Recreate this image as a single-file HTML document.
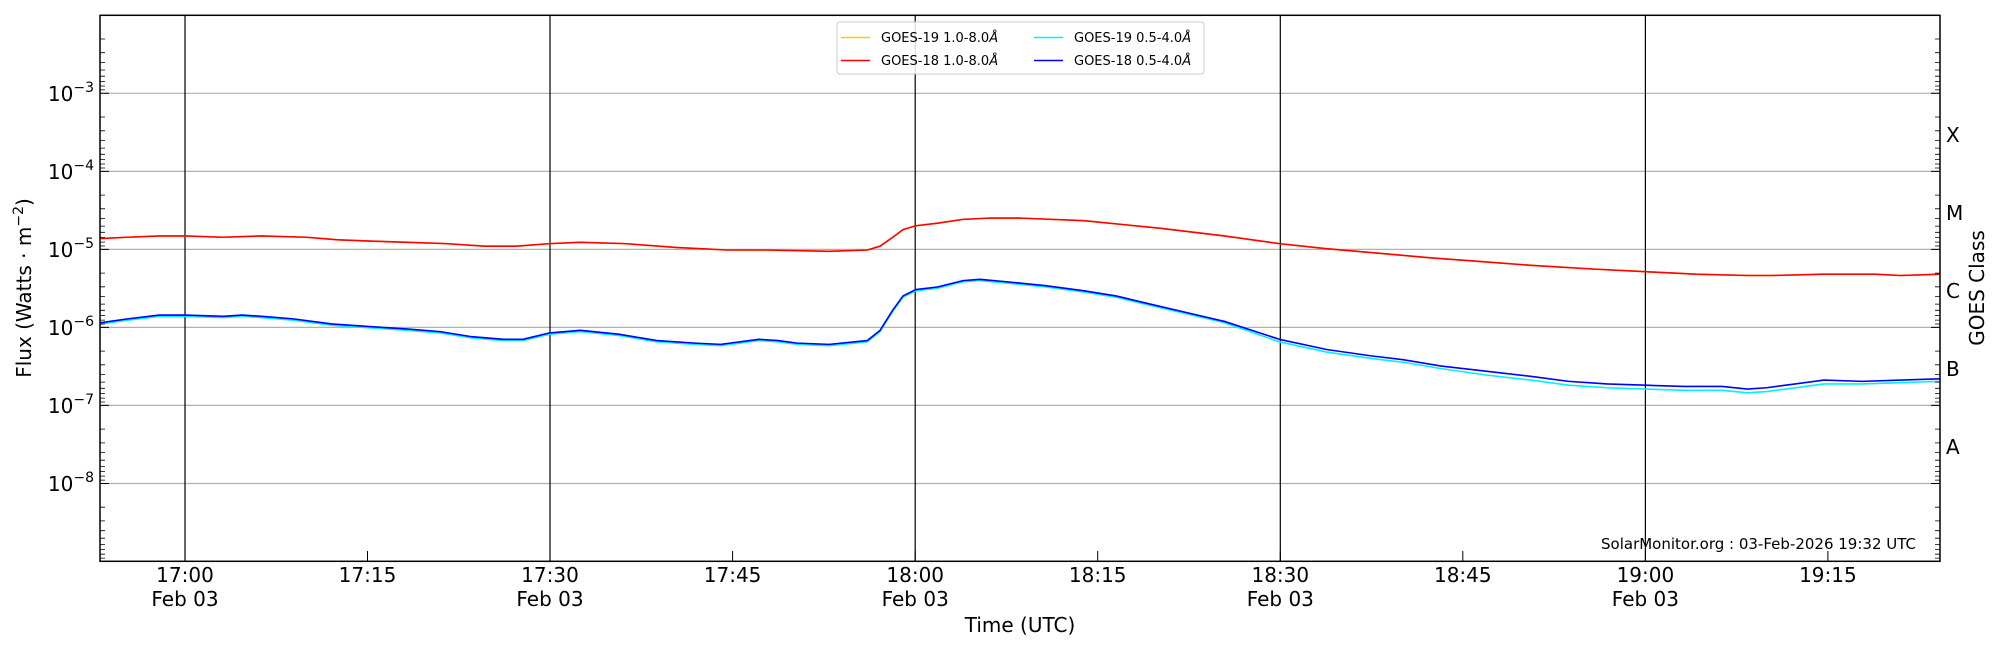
<!DOCTYPE html>
<html><head><meta charset="utf-8"><style>
html,body{margin:0;padding:0;background:#fff;}
svg{display:block;font-family:"DejaVu Sans","Liberation Sans",sans-serif;}
</style></head><body>
<svg width="2000" height="650" viewBox="0 0 2000 650" xmlns="http://www.w3.org/2000/svg">
<rect width="2000" height="650" fill="#fff"/>
<!-- grid -->
<g stroke="#b0b0b0" stroke-width="1.2">
<line x1="100" x2="1940" y1="93.3" y2="93.3"/>
<line x1="100" x2="1940" y1="171.4" y2="171.4"/>
<line x1="100" x2="1940" y1="249.4" y2="249.4"/>
<line x1="100" x2="1940" y1="327.4" y2="327.4"/>
<line x1="100" x2="1940" y1="405.4" y2="405.4"/>
<line x1="100" x2="1940" y1="483.5" y2="483.5"/>
</g>
<g stroke="#000" stroke-width="1.2">
<line x1="185" x2="185" y1="15" y2="561"/>
<line x1="550" x2="550" y1="15" y2="561"/>
<line x1="915.2" x2="915.2" y1="15" y2="561"/>
<line x1="1280.3" x2="1280.3" y1="15" y2="561"/>
<line x1="1645.4" x2="1645.4" y1="15" y2="561"/>
</g>
<!-- series -->
<g transform="scale(1.27551)" fill="none" stroke-linejoin="round">
<polyline stroke="#ffc800" vector-effect="non-scaling-stroke" stroke-width="1.5" points="79,187 100,186 125,185 145,185 175,186 205,185 240,186 265,188 290,189 320,190 350,191 380,193 405,193 431,191 455,190 490,191 530,194 570,196 600,196 650,197 680,196 690,193 700,186 708,180 718,177 735,175 755,172 775,171 800,171 825,172 850,173 880,176 910,179 960,185 1003,191 1040,195 1075,198 1120,202 1160,205 1200,208 1250,211 1290,213 1330,215 1370,216 1390,216 1430,215 1470,215 1490,216 1521,215"/>
<polyline stroke="#ff0000" vector-effect="non-scaling-stroke" stroke-width="1.6" points="79,187 100,186 125,185 145,185 175,186 205,185 240,186 265,188 290,189 320,190 350,191 380,193 405,193 431,191 455,190 490,191 530,194 570,196 600,196 650,197 680,196 690,193 700,186 708,180 718,177 735,175 755,172 775,171 800,171 825,172 850,173 880,176 910,179 960,185 1003,191 1040,195 1075,198 1120,202 1160,205 1200,208 1250,211 1290,213 1330,215 1370,216 1390,216 1430,215 1470,215 1490,216 1521,215"/>
<polyline stroke="#00f0ff" vector-effect="non-scaling-stroke" stroke-width="1.6" points="79,254 100,251 125,248 145,248 175,249 190,248 205,249 230,251 260,255 290,257 320,259 345,261 370,265 395,267 410,267 431,262 455,260 485,263 515,268 545,270 565,271 595,267 610,268 625,270 650,271 680,268 690,260 700,244 708,233 718,228 735,226 755,221 768,220 790,222 820,225 850,229 875,233 900,239 930,246 960,253 1003,268 1040,276 1075,281 1100,284 1130,289 1165,294 1200,298 1230,302 1260,304 1290,305 1320,306 1350,306 1370,308 1385,307 1400,305 1430,301 1460,301 1490,300 1521,299"/>
<polyline stroke="#0000ff" vector-effect="non-scaling-stroke" stroke-width="1.6" points="79,253 100,250 125,247 145,247 175,248 190,247 205,248 230,250 260,254 290,256 320,258 345,260 370,264 395,266 410,266 431,261 455,259 485,262 515,267 545,269 565,270 595,266 610,267 625,269 650,270 680,267 690,259 700,243 708,232 718,227 735,225 755,220 768,219 790,221 820,224 850,228 875,232 900,238 930,245 960,252 1003,266 1040,274 1075,279 1100,282 1130,287 1165,291 1200,295 1230,299 1260,301 1290,302 1320,303 1350,303 1370,305 1385,304 1400,302 1430,298 1460,299 1490,298 1521,297"/>
</g>
<!-- axes frame -->
<rect x="100" y="15.3" width="1840" height="546" fill="none" stroke="#000" stroke-width="1.5"/>
<!-- y ticks -->
<g stroke="#000" stroke-width="1">
<path id="ticks" d="M100,93.3h9 M100,171.4h9 M100,249.4h9 M100,327.4h9 M100,405.4h9 M100,483.5h9 M1940,93.3h-9 M1940,171.4h-9 M1940,249.4h-9 M1940,327.4h-9 M1940,405.4h-9 M1940,483.5h-9"/>
</g>
<g stroke="#000" stroke-width="0.8" id="minor"></g>
<!-- x ticks -->
<g stroke="#000" stroke-width="1">
<path d="M185,561v-10 M367.5,561v-10 M550,561v-10 M732.6,561v-10 M915.2,561v-10 M1097.7,561v-10 M1280.3,561v-10 M1462.8,561v-10 M1645.4,561v-10 M1827.9,561v-10"/>
</g>
<!-- tick labels -->
<g font-size="20" fill="#000" text-anchor="middle">
<text x="185" y="582">17:00</text><text x="185" y="606">Feb 03</text>
<text x="367.5" y="582">17:15</text>
<text x="550" y="582">17:30</text><text x="550" y="606">Feb 03</text>
<text x="732.6" y="582">17:45</text>
<text x="915.2" y="582">18:00</text><text x="915.2" y="606">Feb 03</text>
<text x="1097.7" y="582">18:15</text>
<text x="1280.3" y="582">18:30</text><text x="1280.3" y="606">Feb 03</text>
<text x="1462.8" y="582">18:45</text>
<text x="1645.4" y="582">19:00</text><text x="1645.4" y="606">Feb 03</text>
<text x="1827.9" y="582">19:15</text>
<text x="1020" y="632">Time (UTC)</text>
</g>
<g font-size="20" fill="#000" text-anchor="end">
<text x="94" y="101">10<tspan font-size="14" dy="-9">−3</tspan></text>
<text x="94" y="179">10<tspan font-size="14" dy="-9">−4</tspan></text>
<text x="94" y="257">10<tspan font-size="14" dy="-9">−5</tspan></text>
<text x="94" y="335">10<tspan font-size="14" dy="-9">−6</tspan></text>
<text x="94" y="413">10<tspan font-size="14" dy="-9">−7</tspan></text>
<text x="94" y="491">10<tspan font-size="14" dy="-9">−8</tspan></text>
</g>
<text transform="translate(31,288) rotate(-90)" font-size="20" text-anchor="middle">Flux (Watts · m<tspan font-size="14" dy="-8">−2</tspan><tspan dy="8">)</tspan></text>
<g font-size="20" fill="#000">
<text x="1946" y="142">X</text>
<text x="1946" y="220">M</text>
<text x="1946" y="298">C</text>
<text x="1946" y="376">B</text>
<text x="1946" y="454">A</text>
</g>
<text transform="translate(1984,288) rotate(-90)" font-size="20" text-anchor="middle">GOES Class</text>
<text x="1916" y="549" font-size="15" text-anchor="end">SolarMonitor.org : 03-Feb-2026 19:32 UTC</text>
<!-- legend -->
<rect x="837" y="22" width="367" height="52" rx="3" fill="#fff" fill-opacity="0.85" stroke="#ccc" stroke-width="1"/>
<g stroke-width="1.6">
<line x1="841" x2="870" y1="37.5" y2="37.5" stroke="#ffc800"/>
<line x1="841" x2="870" y1="60.5" y2="60.5" stroke="#ff0000"/>
<line x1="1034" x2="1063" y1="37.5" y2="37.5" stroke="#00f0ff"/>
<line x1="1034" x2="1063" y1="60.5" y2="60.5" stroke="#0000ff"/>
</g>
<g font-size="13" fill="#000">
<text x="881" y="42">GOES-19 1.0-8.0<tspan font-style="italic">Å</tspan></text>
<text x="881" y="65">GOES-18 1.0-8.0<tspan font-style="italic">Å</tspan></text>
<text x="1074" y="42">GOES-19 0.5-4.0<tspan font-style="italic">Å</tspan></text>
<text x="1074" y="65">GOES-18 0.5-4.0<tspan font-style="italic">Å</tspan></text>
</g>
<!-- minor ticks (precomputed log positions, decade=78.03px) -->
<g stroke="#000" stroke-width="0.8">
<path d="
M100,39.0h5M100,52.7h5M100,62.5h5M100,70.0h5M100,76.2h5M100,81.5h5M100,86.0h5M100,89.9h5
M100,117.0h5M100,130.8h5M100,140.5h5M100,148.1h5M100,154.3h5M100,159.5h5M100,164.0h5M100,168.0h5
M100,195.1h5M100,208.8h5M100,218.6h5M100,226.1h5M100,232.3h5M100,237.5h5M100,242.1h5M100,246.0h5
M100,273.1h5M100,286.8h5M100,296.6h5M100,304.1h5M100,310.3h5M100,315.5h5M100,320.1h5M100,324.0h5
M100,351.1h5M100,364.8h5M100,374.6h5M100,382.1h5M100,388.3h5M100,393.5h5M100,398.1h5M100,402.0h5
M100,429.1h5M100,442.9h5M100,452.6h5M100,460.2h5M100,466.4h5M100,471.6h5M100,476.1h5M100,480.1h5
M100,507.2h5M100,520.9h5M100,530.7h5M100,538.2h5M100,544.4h5M100,549.6h5M100,554.2h5M100,558.1h5
M1940,39.0h-5M1940,52.7h-5M1940,62.5h-5M1940,70.0h-5M1940,76.2h-5M1940,81.5h-5M1940,86.0h-5M1940,89.9h-5
M1940,117.0h-5M1940,130.8h-5M1940,140.5h-5M1940,148.1h-5M1940,154.3h-5M1940,159.5h-5M1940,164.0h-5M1940,168.0h-5
M1940,195.1h-5M1940,208.8h-5M1940,218.6h-5M1940,226.1h-5M1940,232.3h-5M1940,237.5h-5M1940,242.1h-5M1940,246.0h-5
M1940,273.1h-5M1940,286.8h-5M1940,296.6h-5M1940,304.1h-5M1940,310.3h-5M1940,315.5h-5M1940,320.1h-5M1940,324.0h-5
M1940,351.1h-5M1940,364.8h-5M1940,374.6h-5M1940,382.1h-5M1940,388.3h-5M1940,393.5h-5M1940,398.1h-5M1940,402.0h-5
M1940,429.1h-5M1940,442.9h-5M1940,452.6h-5M1940,460.2h-5M1940,466.4h-5M1940,471.6h-5M1940,476.1h-5M1940,480.1h-5
M1940,507.2h-5M1940,520.9h-5M1940,530.7h-5M1940,538.2h-5M1940,544.4h-5M1940,549.6h-5M1940,554.2h-5M1940,558.1h-5"/>
</g>
</svg>
</body></html>
